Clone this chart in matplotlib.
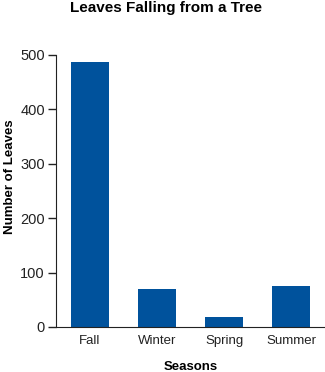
import matplotlib
matplotlib.use('Agg')
import matplotlib.pyplot as plt

seasons = ['Fall', 'Winter', 'Spring', 'Summer']
leaves = [487, 70, 18, 75]
yticks = [0, 100, 200, 300, 400, 500]

plt.rcParams['font.family'] = ['Liberation Sans', 'DejaVu Sans']

fig = plt.figure(figsize=(3.25, 3.72), dpi=100)
ax = fig.add_axes([56 / 325, 1 - 327 / 372, 1 - 56 / 325, 272 / 372])

ax.bar(range(len(seasons)), leaves, width=0.565, color='#00529c')
ax.set_xlim(-0.5, 3.5)
ax.set_ylim(0, 500)
ax.set_yticks(yticks)
ax.set_xticks(range(len(seasons)))
ax.set_xticklabels(seasons)

ax.spines['top'].set_visible(False)
ax.spines['right'].set_visible(False)
ax.spines['left'].set_color('#222222')
ax.spines['bottom'].set_color('#222222')
ax.tick_params(axis='y', length=6, width=1, colors='#222222', labelsize=10.5, pad=2)
ax.tick_params(axis='x', length=0, labelsize=9.5, pad=6, colors='#222222')

ax.set_xlabel('Seasons', fontweight='bold', fontsize=9.5, labelpad=10)
# y label placed on the figure so it is not cut at the left edge
fig.text(10 / 325, 1 - 177 / 372, 'Number of Leaves', rotation=90, ha='center', va='center',
         fontweight='bold', fontsize=9.5)
fig.text(166 / 325, 1 - 8 / 372, 'Leaves Falling from a Tree', ha='center', va='center',
         fontweight='bold', fontsize=11)

fig.savefig('out.png', dpi=100)
